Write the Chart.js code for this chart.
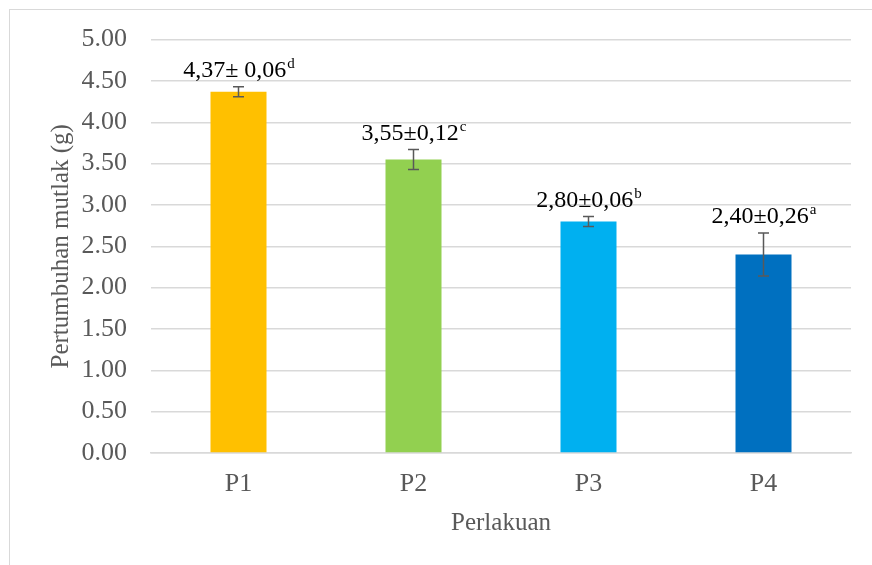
<!DOCTYPE html>
<html>
<head>
<meta charset="utf-8">
<script src="https://cdn.jsdelivr.net/npm/chart.js@4"></script>
<style>
    html, body { margin: 0; padding: 0; background: #fff; overflow: hidden; }
    #wrap { position: relative; width: 872px; height: 565px; }
    #frame { position: absolute; left: 9px; top: 9px; width: 900px; height: 600px; border: 1px solid #d9d9d9; box-sizing: border-box; }
    #chart { position: absolute; left: 0; top: 0; }
</style>
</head>
<body>
<div id="wrap">
    <div id="frame"></div>
    <canvas id="chart" width="872" height="565"></canvas>
</div>
<script>
// Chart data
const categories = ['P1', 'P2', 'P3', 'P4'];
const means = [4.37, 3.55, 2.80, 2.40];
const errors = [0.06, 0.12, 0.06, 0.26];
const labelTexts = ['4,37\u00b1 0,06', '3,55\u00b10,12', '2,80\u00b10,06', '2,40\u00b10,26'];
const labelLetters = ['d', 'c', 'b', 'a'];
const barColors = ['#FFC000', '#92D050', '#00B0F0', '#0070C0'];
const yTicks = [0, 0.5, 1, 1.5, 2, 2.5, 3, 3.5, 4, 4.5, 5];

const serif = '"Liberation Serif", "Times New Roman", serif';

// Error bars and value labels
const errorBarPlugin = {
    id: 'errorBars',
    afterDatasetsDraw(chart) {
        const ctx = chart.ctx;
        const x = chart.scales.x;
        const y = chart.scales.y;
        ctx.save();
        means.forEach((m, i) => {
            const cx = x.getPixelForValue(i);
            const top = y.getPixelForValue(m + errors[i]);
            const bottom = y.getPixelForValue(m - errors[i]);

            // error bar
            ctx.strokeStyle = '#595959';
            ctx.lineWidth = 1.5;
            ctx.beginPath();
            ctx.moveTo(cx, top);
            ctx.lineTo(cx, bottom);
            ctx.moveTo(cx - 5.5, top);
            ctx.lineTo(cx + 5.5, top);
            ctx.moveTo(cx - 5.5, bottom);
            ctx.lineTo(cx + 5.5, bottom);
            ctx.stroke();

            // label with superscript letter
            const mainFont = '24px ' + serif;
            const supFont = '15px ' + serif;
            ctx.font = mainFont;
            const w1 = ctx.measureText(labelTexts[i]).width;
            ctx.font = supFont;
            const w2 = ctx.measureText(labelLetters[i]).width;
            const startX = cx - (w1 + w2) / 2;
            const baseY = top - 10;
            ctx.fillStyle = '#000';
            ctx.textAlign = 'left';
            ctx.textBaseline = 'alphabetic';
            ctx.font = mainFont;
            ctx.fillText(labelTexts[i], startX, baseY);
            ctx.font = supFont;
            ctx.fillText(labelLetters[i], startX + w1 + 1, baseY - 9);
        });
        ctx.restore();
    }
};

new Chart(document.getElementById('chart'), {
    type: 'bar',
    data: {
        labels: categories,
        datasets: [{
            data: means,
            backgroundColor: barColors,
            borderWidth: 0,
            categoryPercentage: 1,
            barPercentage: 0.32
        }]
    },
    options: {
        responsive: false,
        animation: false,
        layout: {
            padding: { left: 46, top: 39, right: 21, bottom: 27 }
        },
        plugins: {
            legend: { display: false },
            tooltip: { enabled: false }
        },
        scales: {
            x: {
                grid: { display: false, drawTicks: false },
                border: { color: '#d9d9d9', width: 1.5 },
                ticks: {
                    color: '#595959',
                    padding: 16,
                    font: { family: serif, size: 26 }
                },
                title: {
                    display: true,
                    text: 'Perlakuan',
                    color: '#595959',
                    padding: { top: 8, bottom: 0 },
                    font: { family: serif, size: 25 }
                },
                afterFit(scale) {
                    scale.height = 85;
                }
            },
            y: {
                min: 0,
                max: 5,
                afterBuildTicks(scale) {
                    scale.ticks = yTicks.map(v => ({ value: v }));
                },
                afterFit(scale) {
                    scale.width = 105;
                },
                grid: { color: '#d9d9d9', lineWidth: 1.5, drawTicks: false },
                border: { display: false },
                ticks: {
                    color: '#595959',
                    padding: 24,
                    font: { family: serif, size: 26 },
                    callback: v => Number(v).toFixed(2)
                },
                title: {
                    display: true,
                    text: 'Pertumbuhan mutlak (g)',
                    color: '#595959',
                    padding: 0,
                    font: { family: serif, size: 25 }
                }
            }
        }
    },
    plugins: [errorBarPlugin]
});
</script>
</body>
</html>
